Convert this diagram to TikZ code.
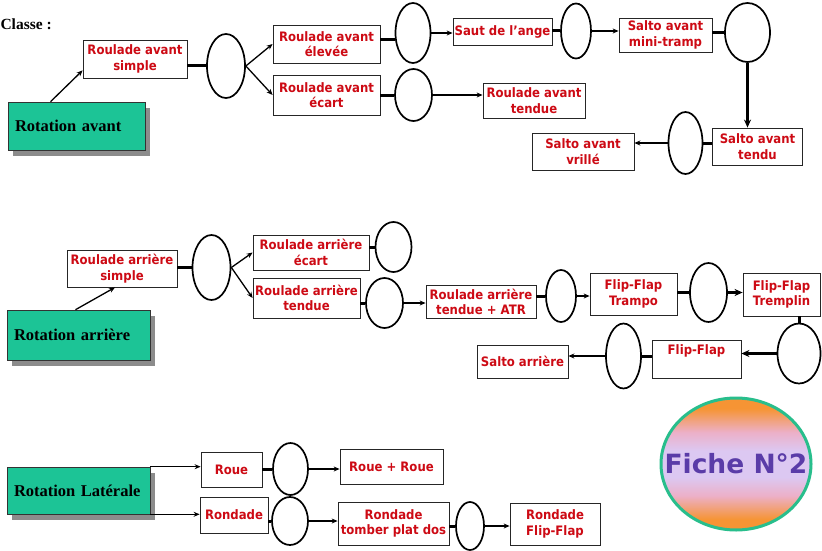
\documentclass[tikz,border=0pt]{standalone}
\usepackage{fontspec}
\setmainfont{Liberation Serif}
\newfontfamily\boxfont[FakeStretch=0.9]{DejaVu Sans}
\newfontfamily\fichefont{DejaVu Sans}
\usetikzlibrary{shapes.geometric,arrows.meta,shadows}
\definecolor{boxred}{RGB}{205,10,20}
\definecolor{famgreen}{RGB}{28,196,150}
\definecolor{ficheorange}{RGB}{246,148,52}
\definecolor{fichepink}{RGB}{236,176,200}
\definecolor{fichelav}{RGB}{220,200,242}
\definecolor{fichegreen}{RGB}{40,190,140}
\definecolor{fichepurple}{RGB}{90,60,168}
\pgfdeclareverticalshading{fichefill}{100bp}{color(0bp)=(ficheorange); color(29bp)=(ficheorange); color(38bp)=(fichepink); color(45bp)=(fichelav); color(55bp)=(fichelav); color(62bp)=(fichepink); color(71bp)=(ficheorange); color(100bp)=(ficheorange)}
\tikzset{
  stepbox/.style={draw=black!85, line width=0.8pt, fill=white, rectangle, inner sep=1pt,
    align=center, text=boxred, font=\boxfont\bfseries\fontsize{13}{15.5}\selectfont},
  hub/.style={draw=black, line width=1.7pt, ellipse, inner sep=0pt},
  famille/.style={draw=black!80, line width=0.6pt, fill=famgreen, rectangle, align=left,
    inner xsep=7pt, inner ysep=0pt, font=\bfseries\fontsize{16.5}{18}\selectfont,
    drop shadow={shadow xshift=5pt,shadow yshift=-6pt,fill=black!45,opacity=1}},
  link/.style={line width=3pt},
  arr/.style={line width=1.3pt, -{Stealth[length=6pt,width=5pt]}},
  bigarr/.style={line width=2.6pt, -{Stealth[length=8pt,width=7pt]}},
}
\begin{document}
\begin{tikzpicture}[x=1pt,y=-1pt]
\useasboundingbox (0,0) rectangle (822,551);
\fill[white] (0,0) rectangle (822,551);

% ---------------- Row 1 : Rotation avant ----------------
\node[anchor=base west, font=\bfseries\fontsize{15.5}{17}\selectfont] (cls) at (-3,30) {Classe :};
\node[famille, text width=123pt, minimum height=48pt] (ra) at (76.5,126) {Rotation avant};
\node[stepbox, minimum width=104pt, minimum height=38pt] (ras) at (135,59) {Roulade avant\\simple};
\node[hub, minimum width=38pt, minimum height=64pt] (e1) at (226,66) {};
\node[stepbox, minimum width=107pt, minimum height=38pt] (rae) at (326.5,44) {Roulade avant\\élevée};
\node[stepbox, minimum width=107pt, minimum height=40pt] (raec) at (326.5,95) {Roulade avant\\écart};
\node[hub, minimum width=35pt, minimum height=60pt] (e2) at (413,33) {};
\node[stepbox, minimum width=99pt, minimum height=27pt] (sda) at (502.5,31.5) {Saut de l’ange};
\node[hub, minimum width=37pt, minimum height=52pt] (e3) at (413.5,95) {};
\node[stepbox, minimum width=102pt, minimum height=35pt] (rat) at (534,100.5) {Roulade avant\\tendue};
\node[hub, minimum width=30pt, minimum height=55pt] (e4) at (576,31) {};
\node[stepbox, minimum width=93pt, minimum height=34pt] (sam) at (665.5,35) {Salto avant\\mini-tramp};
\node[hub, minimum width=45pt, minimum height=59pt] (e5) at (747.5,32.5) {};
\node[stepbox, minimum width=90pt, minimum height=37pt] (sat) at (757.5,146.5) {Salto avant\\tendu};
\node[hub, minimum width=34pt, minimum height=62pt] (e6) at (685.5,143) {};
\node[stepbox, minimum width=102pt, minimum height=37pt] (sav) at (583,151.5) {Salto avant\\vrillé};

\draw[arr] ([xshift=-26pt]ra.north) -- ([yshift=8pt]ras.south west);
\draw[link] (e1.west -| ras.east) -- (e1.west);
\draw[arr] (e1.east) -- (rae.west);
\draw[arr] (e1.east) -- (raec.west);
\draw[link] (e2.200 -| rae.east) -- (e2.200);
\draw[arr] (e2.east) -- (e2.east -| sda.west);
\draw[link] (e3.west -| raec.east) -- (e3.west);
\draw[arr] (e3.east) -- (e3.east -| rat.west);
\draw[link] (e4.west -| sda.east) -- (e4.west);
\draw[arr] (e4.east) -- (e4.east -| sam.west);
\draw[link] (e5.west -| sam.east) -- (e5.west);
\draw[bigarr] (e5.south) -- (e5.south |- sat.north);
\draw[link] (e6.east -| sat.west) -- (e6.east);
\draw[arr] (e6.west) -- (e6.west -| sav.east);

% ---------------- Row 2 : Rotation arrière ----------------
\node[famille, text width=129pt, minimum height=50pt] (rar) at (78.5,335) {Rotation arrière};
\node[stepbox, minimum width=110pt, minimum height=37pt] (rars) at (122,268.5) {Roulade arrière\\simple};
\node[hub, minimum width=38pt, minimum height=65pt] (e7) at (211.5,267.5) {};
\node[stepbox, minimum width=116pt, minimum height=35pt] (raec2) at (311,252.5) {Roulade arrière\\écart};
\node[hub, minimum width=36pt, minimum height=50pt] (e8) at (393.5,247) {};
\node[stepbox, minimum width=107pt, minimum height=40pt] (rat2) at (306.5,298) {Roulade arrière\\tendue};
\node[hub, minimum width=37pt, minimum height=50pt] (e9) at (384.5,303) {};
\node[stepbox, minimum width=110pt, minimum height=33pt] (atr) at (481,302) {Roulade arrière\\tendue + ATR};
\node[hub, minimum width=30pt, minimum height=52pt] (e10) at (561,296) {};
\node[stepbox, minimum width=87pt, minimum height=42pt] (fft) at (633.5,294) {Flip-Flap\\Trampo};
\node[hub, minimum width=37pt, minimum height=59pt] (e11) at (708.5,292.5) {};
\node[stepbox, minimum width=77pt, minimum height=43pt] (fftr) at (781.5,294.5) {Flip-Flap\\Tremplin};
\node[hub, minimum width=43pt, minimum height=60pt] (e12) at (799,353.5) {};
\node[stepbox, minimum width=89pt, minimum height=38pt] (ff) at (696.5,359) {Flip-Flap\\[4pt]};
\node[hub, minimum width=35pt, minimum height=65pt] (e13) at (623.5,356) {};
\node[stepbox, minimum width=91pt, minimum height=33pt] (sa) at (522.5,361.5) {Salto arrière};

\draw[arr] ([xshift=-3pt]rar.north) -- ([xshift=-7pt]rars.south);
\draw[link] (e7.west -| rars.east) -- (e7.west);
\draw[arr] (e7.east) -- (raec2.west);
\draw[arr] (e7.east) -- (rat2.west);
\draw[link] (e8.west -| raec2.east) -- (e8.west);
\draw[link] (e9.west -| rat2.east) -- (e9.west);
\draw[arr] (e9.east) -- (e9.east -| atr.west);
\draw[link] (e10.west -| atr.east) -- (e10.west);
\draw[arr] (e10.east) -- (e10.east -| fft.west);
\draw[link] (e11.west -| fft.east) -- (e11.west);
\draw[bigarr] (e11.east) -- (e11.east -| fftr.west);
\draw[link] (e12.north |- fftr.south) -- (e12.north);
\draw[bigarr] (e12.west) -- (e12.west -| ff.east);
\draw[link] (e13.east -| ff.west) -- (e13.east);
\draw[arr] (e13.west) -- (e13.west -| sa.east);

% ---------------- Row 3 : Rotation Latérale ----------------
\node[famille, text width=129pt, minimum height=47pt] (rl) at (78.5,490.5) {Rotation Latérale};
\node[stepbox, minimum width=61pt, minimum height=35pt] (roue) at (231.5,469.5) {Roue};
\node[stepbox, minimum width=68pt, minimum height=36pt] (ron) at (234,515) {Rondade};
\node[hub, minimum width=35pt, minimum height=52pt] (e14) at (290.5,469) {};
\node[stepbox, minimum width=103pt, minimum height=35pt] (rr) at (391.5,466.5) {Roue + Roue};
\node[hub, minimum width=36pt, minimum height=48pt] (e15) at (290,521) {};
\node[stepbox, minimum width=111pt, minimum height=43pt] (rtpd) at (393.5,523.5) {Rondade\\tomber plat dos};
\node[hub, minimum width=28pt, minimum height=48pt] (e16) at (470,526) {};
\node[stepbox, minimum width=90pt, minimum height=42pt] (rff) at (555,524) {Rondade\\Flip-Flap};

\draw[arr] (rl.north east) -- (rl.north east -| roue.west);
\draw[arr] (rl.south east) -- (rl.south east -| ron.west);
\draw[link] (e14.west -| roue.east) -- (e14.west);
\draw[arr] (e14.east) -- (e14.east -| rr.west);
\draw[link] (e15.west -| ron.east) -- (e15.west);
\draw[arr] (e15.east) -- (e15.east -| rtpd.west);
\draw[link] (e16.west -| rtpd.east) -- (e16.west);
\draw[arr] (e16.east) -- (e16.east -| rff.west);

% ---------------- Fiche ----------------
\node[ellipse, inner sep=0pt, minimum width=150pt, minimum height=132pt, draw=fichegreen, line width=3pt,
  shading=fichefill] (fiche) at (736,464) {};
\node[text=fichepurple, inner sep=0pt, font=\fichefont\bfseries\fontsize{26.5}{30}\selectfont] (fichetxt) at (fiche.center) {Fiche N°2};
\end{tikzpicture}
\end{document}
